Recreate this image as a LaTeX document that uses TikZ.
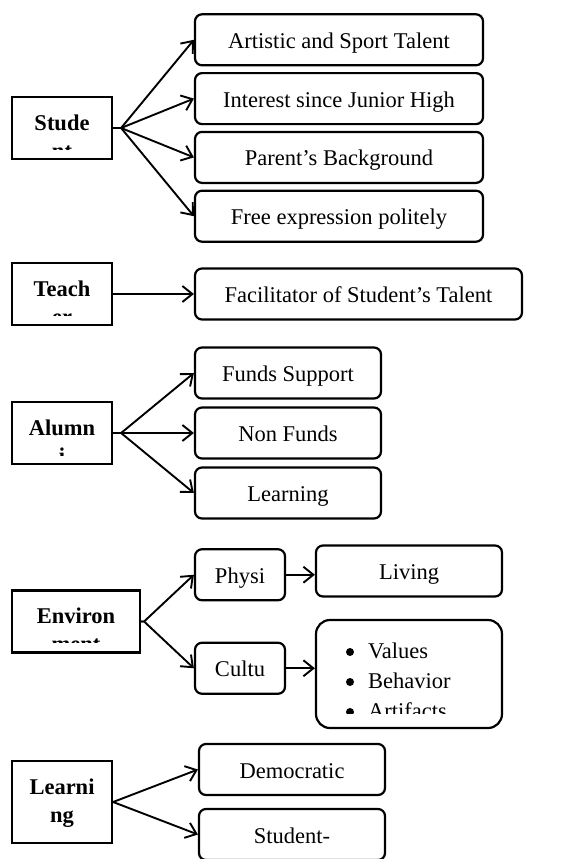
\documentclass[tikz,border=0pt]{standalone}
\usepackage{fontspec}
\setmainfont{Liberation Serif}
\usetikzlibrary{arrows.meta}

\begin{document}
\begin{tikzpicture}[x=1pt, y=1pt, >={Straight Barb[length=10pt,width=16pt]}]
        \tikzstyle{every node}=[font=\fontsize{22.5}{27}\selectfont]
        \tikzstyle{item}=[inner sep=0pt, minimum width=0pt, minimum height=0pt]
        \tikzstyle{factor}=[draw, line width=2.2pt, minimum width=100pt, minimum height=62pt]
        \tikzstyle{aspect}=[draw, rounded corners=7pt, line width=2.2pt, minimum width=186pt, minimum height=51pt, text height=17pt, text depth=0pt]
        \tikzstyle{list}=[draw, rounded corners=14pt, line width=2.2pt, minimum width=186pt, minimum height=108pt]
        \tikzstyle{edge from parent}=[draw, ->, line width=1.9pt]
        \tikzstyle{fork}=[edge from parent path={(\tikzparentnode.east) -- ++(#1,0) -- (\tikzchildnode.west)}]
        \tikzset{twolines/.style n args={3}{path picture={
            \clip[sharp corners] ([yshift=#1]path picture bounding box.south west) rectangle (path picture bounding box.north east);
            \node[item, font=\fontsize{22.5}{27}\selectfont\bfseries, anchor=base] at ([yshift=-33pt]path picture bounding box.north) {#2};
            \node[item, font=\fontsize{22.5}{27}\selectfont\bfseries, anchor=base] at ([yshift=-61pt]path picture bounding box.north) {#3};
        }}}
        \useasboundingbox (0,0) rectangle (567,-859);
        \clip (0,0) rectangle (567,-859);

        % student
        \node[factor, twolines={10pt}{Stude}{nt}] (stu) at (62,-128) {}
            [grow'=right, level distance=277pt, sibling distance=58.8pt, fork=8pt]
            child {node[aspect, minimum width=288pt] (art) {Artistic and Sport Talent}}
            child {node[aspect, minimum width=288pt] (int) {Interest since Junior High}}
            child {node[aspect, minimum width=288pt] (par) {Parent's Background}}
            child {node[aspect, minimum width=288pt] (fre) {Free expression politely}};

        % teacher
        \node[factor, twolines={10pt}{Teach}{er}] (tea) at (62,-294) {}
            [grow'=right, level distance=296.5pt, fork=0pt]
            child {node[aspect, minimum width=327pt] (fac) {Facilitator of Student's Talent}};

        % alumni
        \node[factor, twolines={9pt}{Alumn}{i}] (alu) at (62,-433) {}
            [grow'=right, level distance=226pt, sibling distance=60pt, fork=8pt]
            child {node[aspect] (fun) {Funds Support}}
            child {node[aspect] (non) {Non Funds}}
            child {node[aspect] (lea) {Learning}};

        % environment
        \node[factor, minimum width=128pt, twolines={10pt}{Environ}{ment}] (env) at (76,-621.5) {}
            [grow'=right, level distance=164pt, sibling distance=93.5pt, fork=3pt,
             level 2/.style={level distance=169pt, edge from parent path={(\tikzparentnode.east) -- (\tikzparentnode.east -| \tikzchildnode.west)}}]
            child {node[aspect, minimum width=90pt] (phy) {Physi}
                child {node[aspect, yshift=3.75pt] (liv) {Living}}}
            child {node[aspect, minimum width=90pt] (cul) {Cultu}
                child {node[list, yshift=-5.75pt, path picture={
                    \clip[sharp corners] ([yshift=15pt]path picture bounding box.south west) rectangle (path picture bounding box.north east);
                    \foreach \w [count=\i] in {Values, Behavior, Artifacts} {
                        \node[item, circle, fill, minimum size=8pt] (dot\i) at ([xshift=34pt, yshift=-2pt-30pt*\i]path picture bounding box.north west) {};
                        \node[item, anchor=base west] (word\i) at ([xshift=51pt, yshift=-8pt-30pt*\i]path picture bounding box.north west) {\w};
                    }}] (val) {}}};

        % learning
        \node[factor, minimum height=82pt, twolines={0pt}{Learni}{ng}] (lrn) at (62,-802) {}
            [grow'=right, level distance=230pt, sibling distance=65pt, fork=0pt]
            child {node[aspect] (dem) {Democratic}}
            child {node[aspect] (sce) {Student-}};
    \end{tikzpicture}
\end{document}
